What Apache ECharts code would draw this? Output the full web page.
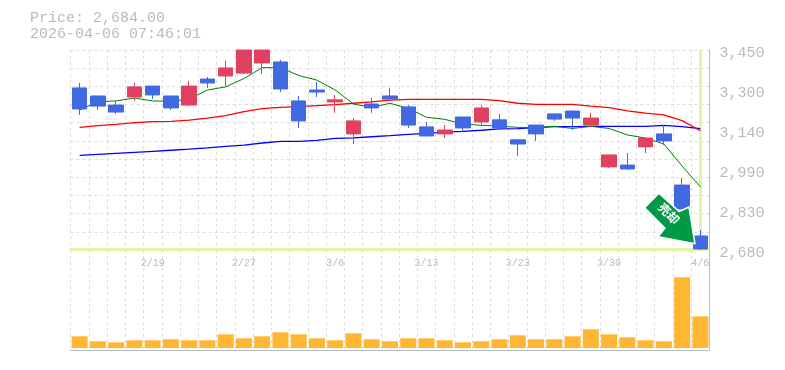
<!DOCTYPE html>
<html><head><meta charset="utf-8">
<style>html,body{margin:0;padding:0;background:#fff}#c{width:785px;height:370px}</style>
<script src="https://cdn.jsdelivr.net/npm/echarts@6/dist/echarts.min.js"></script>
</head><body><div id="c"></div>
<script>
const titleLines = ['Price: 2,684.00', '2026-04-06 07:46:01'];
const dates = ['2/13','2/16','2/17','2/18','2/19','2/20','2/24','2/25','2/26','2/27','3/2','3/3','3/4','3/5','3/6','3/9','3/10','3/11','3/12','3/13','3/16','3/17','3/18','3/19','3/23','3/24','3/25','3/26','3/27','3/30','3/31','4/1','4/2','4/3','4/6'];
const shownDates = ['2/19','2/27','3/6','3/13','3/23','3/30','4/6'];
const opens  = [3304,3273,3238,3269,3311,3273,3238,3338,3350,3361,3400,3404,3254,3296,3250,3127,3242,3273,3231,3154,3127,3192,3173,3181,3104,3161,3204,3215,3161,3000,3007,3077,3127,2930,2734];
const closes = [3223,3234,3211,3308,3277,3227,3311,3323,3381,3450,3450,3300,3177,3288,3258,3177,3227,3261,3161,3119,3142,3150,3227,3150,3088,3127,3184,3188,3188,3046,2992,3111,3100,2838,2684];
const lows   = [3200,3219,3204,3254,3261,3219,3234,3304,3308,3358,3358,3288,3150,3269,3208,3088,3208,3261,3150,3119,3111,3134,3161,3142,3042,3100,3177,3142,3154,2996,2988,3053,3084,2838,2680];
const highs  = [3323,3273,3254,3323,3311,3273,3331,3346,3408,3450,3450,3412,3273,3327,3277,3188,3265,3304,3238,3173,3161,3192,3238,3204,3107,3161,3204,3215,3208,3046,3053,3111,3161,2957,2757];
const maShort = [3219,3251,3254,3265,3254,3252,3261,3296,3308,3340,3382,3382,3352,3334,3296,3242,3229,3245,3225,3191,3183,3165,3160,3157,3152,3152,3156,3148,3156,3148,3123,3111,3088,3003,2924];
const maMid   = [3152,3159,3164,3170,3174,3175,3180,3188,3197,3213,3224,3229,3232,3236,3240,3245,3250,3257,3260,3260,3260,3260,3260,3255,3245,3241,3241,3241,3234,3228,3216,3207,3200,3178,3139];
const maLong  = [3044,3048,3052,3056,3060,3064,3068,3073,3079,3084,3092,3098,3098,3102,3110,3112,3116,3120,3125,3129,3134,3137,3141,3146,3147,3151,3155,3155,3156,3156,3156,3156,3160,3155,3147];
const volumes = [11.7,6.7,5.7,7.7,7.7,8.7,7.7,7.7,13.7,9.7,11.7,15.7,13.7,9.7,7.7,14.7,8.7,6.7,9.7,9.7,7.7,5.7,6.7,8.7,12.7,8.7,8.7,11.7,18.7,13.7,10.7,7.7,6.7,70.7,31.7];
const priceTicks = [2680,2834,2988,3142,3296,3450];
const priceTickLabels = ['2,680','2,830','2,990','3,140','3,300','3,450'];
const lastPrice = 2684;
const lastDate = '4/6';
const signalText = '売却';

const grey = '#bbbbbb', gridC = '#dddddd', hl = '#e3f5a5';
const up = '#e14160', down = '#4169e1';
const arrow = 'path://M659 193.3L644.7 207.7L665 228L658.3 236.7L695 243.7L689 207L679.3 211.7Z';
const dash = {color: gridC, width: 1, type: [3, 3]};
const L = 70.5, R = 75.5;

const option = {
  animation: false,
  backgroundColor: '#fff',
  graphic: titleLines.map((t, i) => ({
    type: 'text', left: 30, top: 11 + i * 15.3, silent: true,
    style: {text: t, fill: grey, font: '15px "Liberation Mono"'}
  })),
  grid: [
    {left: L, right: R, top: 50, height: 200},
    {left: L, right: R, top: 250, height: 100}
  ],
  xAxis: [
    {type: 'category', gridIndex: 0, data: dates, boundaryGap: true,
     axisLine: {show: true, lineStyle: {color: grey, width: 1}}, axisTick: {show: false}, axisLabel: {show: false},
     splitLine: {show: true, interval: 0, lineStyle: dash}},
    {type: 'category', gridIndex: 1, data: dates, boundaryGap: true, position: 'top',
     axisLine: {show: false}, axisTick: {show: false},
     axisLabel: {show: true, inside: true, margin: 8, color: grey, fontFamily: 'Liberation Mono', fontSize: 10,
       interval: (i, v) => shownDates.includes(v)},
     splitLine: {show: true, interval: 0, lineStyle: dash}},
    {type: 'category', gridIndex: 1, data: dates, position: 'bottom', show: true,
     axisLine: {show: true, onZero: false, lineStyle: {color: grey, width: 1}}, axisTick: {show: false}, axisLabel: {show: false}, splitLine: {show: false}}
  ],
  yAxis: [
    {type: 'value', gridIndex: 0, min: 2680, max: 3450, position: 'right', scale: true,
     axisLine: {show: true, lineStyle: {color: grey, width: 1}}, axisTick: {show: false}, splitLine: {show: false},
     axisLabel: {show: true, customValues: priceTicks, margin: 10, color: grey, fontFamily: 'Liberation Mono', fontSize: 15,
       verticalAlign: 'top', lineHeight: 7, showMinLabel: true, showMaxLabel: true,
       formatter: v => priceTickLabels[priceTicks.indexOf(v)]}},
    {type: 'value', gridIndex: 0, min: 0, max: 11, interval: 1, position: 'right',
     axisLine: {show: false}, axisTick: {show: false}, axisLabel: {show: false},
     splitLine: {show: true, lineStyle: dash}},
    {type: 'value', gridIndex: 1, min: -2, max: 98, position: 'right',
     axisLine: {show: true, lineStyle: {color: grey, width: 1}}, axisTick: {show: false}, axisLabel: {show: false}, splitLine: {show: false}}
  ],
  series: [
    {type: 'line', name: 'highlight', xAxisIndex: 0, yAxisIndex: 0, data: [], z: 1, silent: true,
     markLine: {z: 1, silent: true, symbol: 'none', label: {show: false}, animation: false,
       lineStyle: {color: hl, width: 3, type: 'solid'},
       data: [{yAxis: lastPrice}, {xAxis: lastDate}]}},
    {type: 'line', name: 'long', xAxisIndex: 0, yAxisIndex: 0, data: maLong, z: 2, symbol: 'none', silent: true, lineStyle: {color: '#0000ff', width: 1.3}},
    {type: 'line', name: 'mid', xAxisIndex: 0, yAxisIndex: 0, data: maMid, z: 2, symbol: 'none', silent: true, lineStyle: {color: '#ff0000', width: 1.3}},
    {type: 'line', name: 'short', xAxisIndex: 0, yAxisIndex: 0, data: maShort, z: 2, symbol: 'none', silent: true, lineStyle: {color: '#008000', width: 1}},
    {type: 'candlestick', name: 'price', xAxisIndex: 0, yAxisIndex: 0, z: 3, barWidth: 15,
     data: opens.map((o, i) => [o, closes[i], lows[i], highs[i]]),
     itemStyle: {color: up, color0: down, borderColor: up, borderColor0: down, borderWidth: 1},
     markPoint: {
       silent: true, animation: false,
       data: [{coord: [lastDate, lastPrice], symbol: arrow, symbolSize: [50.3, 50.4], symbolKeepAspect: false,
         symbolOffset: [-30.6, -30.5],
         itemStyle: {color: '#009944', borderColor: '#fff', borderWidth: 1.5},
         label: {show: true, position: 'inside', formatter: signalText, rotate: -45, offset: [-4, -3],
           color: '#fff', fontFamily: 'Noto Sans CJK JP', fontSize: 12, fontWeight: 'bold'}}]
     }},
    {type: 'bar', name: 'volume', xAxisIndex: 1, yAxisIndex: 2, data: volumes, barWidth: 16, z: 3, silent: true,
     itemStyle: {color: '#ffb733'}}
  ]
};
const chart = echarts.init(document.getElementById('c'), null, {renderer: 'canvas'});
chart.setOption(option);
</script></body></html>
